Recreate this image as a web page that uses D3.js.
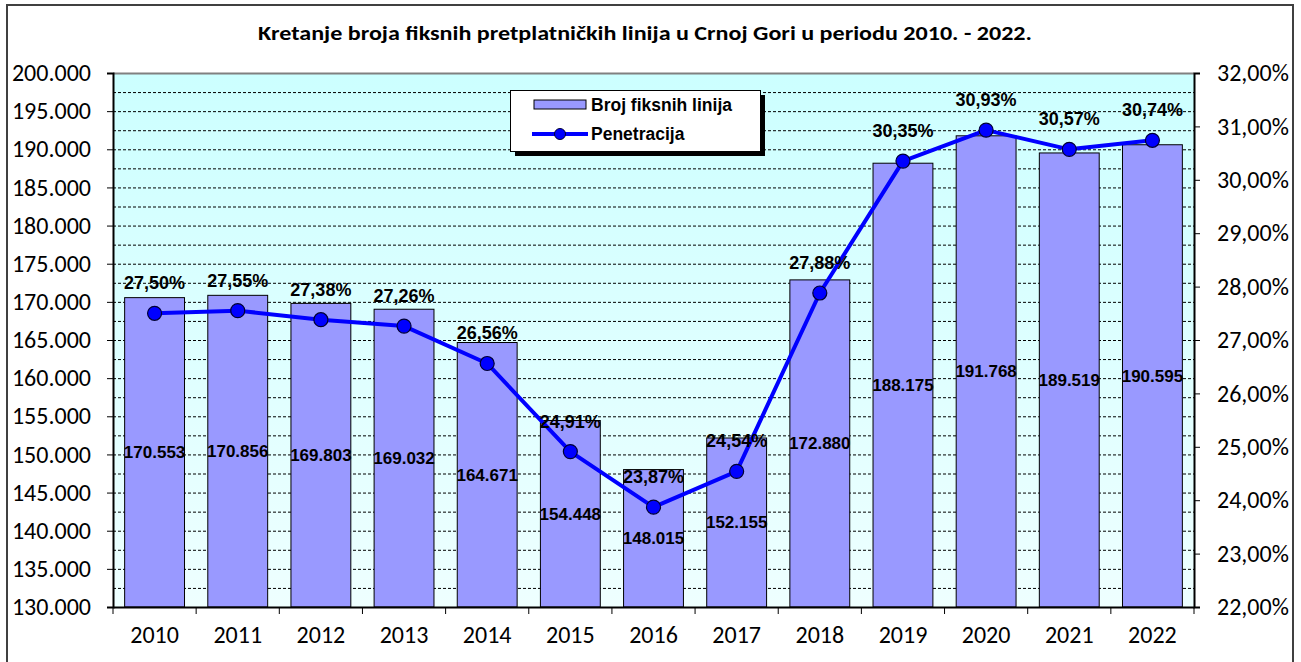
<!DOCTYPE html>
<html>
<head>
<meta charset="utf-8">
<script src="https://cdn.jsdelivr.net/npm/d3@7"></script>
<style>
  body { margin: 0; background: #fff; }
  svg { display: block; }
</style>
</head>
<body>
<div id="chart"></div>
<script>
// data
const years = ["2010","2011","2012","2013","2014","2015","2016","2017","2018","2019","2020","2021","2022"];
const lines = [170553,170856,169803,169032,164671,154448,148015,152155,172880,188175,191768,189519,190595];
const penetration = [27.50,27.55,27.38,27.26,26.56,24.91,23.87,24.54,27.88,30.35,30.93,30.57,30.74];
const leftTicks = [130000,135000,140000,145000,150000,155000,160000,165000,170000,175000,180000,185000,190000,195000,200000];
const rightTicks = [22,23,24,25,26,27,28,29,30,31,32];

const W = 1301, H = 662;
const margin = {top: 73, right: 107, bottom: 55, left: 113},
  width = W - margin.left - margin.right,
  height = H - margin.top - margin.bottom;

const axisFont = "Carlito, Calibri, Lato, sans-serif";
const boldFont = "Arial, 'Liberation Sans', sans-serif";

const svg = d3.select("#chart").append("svg")
  .attr("width", W).attr("height", H);

const defs = svg.append("defs");
const grad = defs.append("linearGradient").attr("id", "bg")
  .attr("x1", 0).attr("y1", 0).attr("x2", 0).attr("y2", 1);
grad.append("stop").attr("offset", "0%").attr("stop-color", "#ccffff");
grad.append("stop").attr("offset", "100%").attr("stop-color", "#eeffff");

// outer frame
svg.append("rect")
  .attr("x", 7).attr("y", 5).attr("width", 1286).attr("height", 670)
  .attr("fill", "#fff").attr("stroke", "#404040").attr("stroke-width", 2);

// title
svg.append("text")
  .attr("x", 645).attr("y", 40)
  .attr("text-anchor", "middle")
  .attr("textLength", 774).attr("lengthAdjust", "spacingAndGlyphs")
  .style("font-family", axisFont)
  .style("font-weight", "bold").style("font-size", "21px")
  .text("Kretanje broja fiksnih pretplatničkih linija u Crnoj Gori u periodu 2010. - 2022.");

const g = svg.append("g").attr("transform", `translate(${margin.left},${margin.top})`);

// scales
const x = d3.scaleBand().domain(years).range([0, width]).paddingInner(0.28).paddingOuter(0.14);
const xs = d3.scaleBand().domain(years).range([0, width]);
const y = d3.scaleLinear().domain([130000, 200000]).range([height, 0]);
const y2 = d3.scaleLinear().domain([22, 32]).range([height, 0]);

// plot background
g.append("rect").attr("width", width).attr("height", height).attr("fill", "url(#bg)");

// dashed gridlines every 2.500
g.append("g").selectAll("line")
  .data(d3.range(132500, 200000, 2500))
  .join("line")
  .attr("x1", 0).attr("x2", width)
  .attr("y1", d => y(d) + 0.5).attr("y2", d => y(d) + 0.5)
  .attr("stroke", "#000").attr("stroke-width", 1).attr("stroke-dasharray", "3,2");

// top border of plot
g.append("line").attr("x1", 0).attr("x2", width).attr("y1", 0.5).attr("y2", 0.5)
  .attr("stroke", "#808080").attr("stroke-width", 2);

// bars
g.append("g").selectAll("rect")
  .data(years)
  .join("rect")
  .attr("x", (d) => x(d))
  .attr("y", (d, i) => y(lines[i]))
  .attr("width", x.bandwidth())
  .attr("height", (d, i) => height - y(lines[i]))
  .attr("fill", "#9999ff").attr("stroke", "#000").attr("stroke-width", 1);

const fmtNum = d3.formatLocale({decimal: ",", thousands: ".", grouping: [3], currency: ["", ""]});
const fThousands = fmtNum.format(",.0f");
const fPct = v => fmtNum.format(".2f")(v) + "%";

// axes
const leftAxis = d3.axisLeft(y).tickValues(leftTicks).tickFormat(fThousands).tickSize(6).tickPadding(16);
const gl = g.append("g").call(leftAxis);
gl.select(".domain").attr("stroke", "#000").attr("stroke-width", 2);

const rightAxis = d3.axisRight(y2).tickValues(rightTicks).tickFormat(fPct).tickSize(6).tickPadding(17);
const gr = g.append("g").attr("transform", `translate(${width},0)`).call(rightAxis);
gr.select(".domain").attr("stroke", "#000").attr("stroke-width", 2);

const gb = g.append("g").attr("transform", `translate(0,${height})`).call(d3.axisBottom(xs).tickSize(0).tickPadding(19));
gb.select(".domain").attr("stroke", "#000").attr("stroke-width", 2);
// bottom ticks between categories
gb.selectAll(".sep").data(d3.range(years.length + 1)).join("line")
  .attr("x1", i => i * xs.step()).attr("x2", i => i * xs.step())
  .attr("y1", 0).attr("y2", 7).attr("stroke", "#000");

[gl, gr, gb].forEach(a => a.selectAll("text")
  .style("font-family", axisFont)
  .style("font-size", "24px").attr("fill", "#000"));
[gl, gr].forEach(a => a.selectAll(".tick line").attr("stroke", "#000"));

// bar value labels
g.append("g").selectAll("text")
  .data(years)
  .join("text")
  .attr("x", d => x(d) + x.bandwidth() / 2)
  .attr("y", (d, i) => (y(lines[i]) + height) / 2 + 6)
  .attr("text-anchor", "middle")
  .style("font-family", boldFont)
  .style("font-weight", "bold").style("font-size", "17px")
  .text((d, i) => fThousands(lines[i]));

// penetration line
const line = d3.line()
  .x((d, i) => xs(years[i]) + xs.bandwidth() / 2)
  .y(d => y2(d));
g.append("path").datum(penetration)
  .attr("d", line)
  .attr("fill", "none").attr("stroke", "#0000ff").attr("stroke-width", 4)
  .attr("stroke-linejoin", "round");

g.append("g").selectAll("circle")
  .data(penetration)
  .join("circle")
  .attr("cx", (d, i) => xs(years[i]) + xs.bandwidth() / 2)
  .attr("cy", d => y2(d))
  .attr("r", 7)
  .attr("fill", "#0000ff").attr("stroke", "#000033").attr("stroke-width", 1.2);

g.append("g").selectAll("text")
  .data(penetration)
  .join("text")
  .attr("x", (d, i) => xs(years[i]) + xs.bandwidth() / 2)
  .attr("y", d => y2(d) - 24)
  .attr("text-anchor", "middle")
  .style("font-family", boldFont)
  .style("font-weight", "bold").style("font-size", "18px")
  .text(d => fPct(d));

// legend
const lg = svg.append("g").attr("transform", "translate(510,90)");
lg.append("rect").attr("x", 5).attr("y", 5).attr("width", 250).attr("height", 61).attr("fill", "#000");
lg.append("rect").attr("x", 0.5).attr("y", 0.5).attr("width", 250).attr("height", 61)
  .attr("fill", "#fff").attr("stroke", "#000").attr("stroke-width", 1);
lg.append("rect").attr("x", 24).attr("y", 10).attr("width", 52).attr("height", 9)
  .attr("fill", "#9999ff").attr("stroke", "#000");
lg.append("line").attr("x1", 22).attr("x2", 78).attr("y1", 44).attr("y2", 44)
  .attr("stroke", "#0000ff").attr("stroke-width", 4);
lg.append("circle").attr("cx", 50).attr("cy", 44).attr("r", 5.5)
  .attr("fill", "#0000ff").attr("stroke", "#000033");
const legendLabels = ["Broj fiksnih linija", "Penetracija"];
lg.selectAll(".lt").data(legendLabels).join("text")
  .attr("x", 81).attr("y", (d, i) => 21 + i * 29)
  .style("font-family", boldFont)
  .style("font-weight", "bold").style("font-size", "17.5px")
  .text(d => d);
</script>
</body>
</html>
